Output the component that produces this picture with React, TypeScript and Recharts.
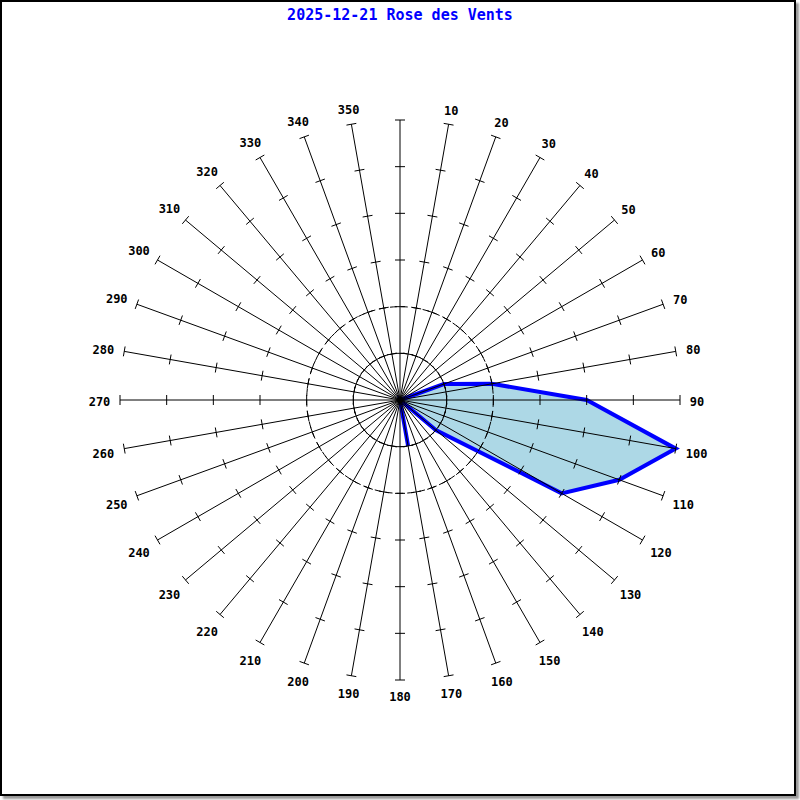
import React from "react";
import {
  RadarChart,
  Radar,
  PolarAngleAxis,
  PolarRadiusAxis,
} from "recharts";

const directions = [
  0, 10, 20, 30, 40, 50, 60, 70, 80, 90, 100, 110, 120, 130, 140, 150, 160, 170,
  180, 190, 200, 210, 220, 230, 240, 250, 260, 270, 280, 290, 300, 310, 320, 330,
  340, 350,
];
const frequency = [
  0, 0, 0, 0, 0, 0, 0, 1, 2, 4, 6, 5, 4, 1, 0, 0, 0, 1,
  0, 0, 0, 0, 0, 0, 0, 0, 0, 0, 0, 0, 0, 0, 0, 0,
  0, 0,
];
const radiusTicks = [1, 2, 3, 4, 5, 6];
const dashedRings = [1, 2];
const title = "2025-12-21 Rose des Vents";

const CX = 400;
const CY = 400;
const R = 280;
const RMAX = 6;
const LABEL_GAP = 10;

const data = directions.map((d, i) => ({ dir: d, value: frequency[i] }));

// spoke, its tick marks and its label; the rings are drawn once with the first spoke
function SpokeTick(props: any) {
  const { x, y, payload, index } = props;
  const deg = Number(payload.value);
  const rad = (deg * Math.PI) / 180;
  const ux = Math.sin(rad);
  const uy = -Math.cos(rad);
  const half = 5;
  const label = String(deg);
  const w = label.length * 7;
  const h = 9;
  const ext = Math.abs(ux) * (w / 2) + Math.abs(uy) * (h / 2);
  return (
    <g>
      {index === 0 &&
        dashedRings.map((v) => (
          <circle
            key={"ring" + v}
            cx={CX}
            cy={CY}
            r={(v / RMAX) * R}
            fill="none"
            stroke="#000"
            strokeDasharray="7 4"
          />
        ))}
      <line
        x1={CX}
        y1={CY}
        x2={CX + ux * R}
        y2={CY + uy * R}
        stroke="#000"
        strokeWidth={1}
      />
      {radiusTicks.map((v) => {
        const r = (v / RMAX) * R;
        const px = CX + ux * r;
        const py = CY + uy * r;
        return (
          <line
            key={v}
            x1={px - uy * half}
            y1={py + ux * half}
            x2={px + uy * half}
            y2={py - ux * half}
            stroke="#000"
            strokeWidth={1}
          />
        );
      })}
      {deg !== 0 && (
        <text
          x={x + ux * ext}
          y={y + uy * ext + 2}
          textAnchor="middle"
          dominantBaseline="central"
          fontFamily="'DejaVu Sans Mono', monospace"
          fontWeight="bold"
          fontSize={12}
          fill="#000"
        >
          {label}
        </text>
      )}
    </g>
  );
}

export default function App() {
  return (
    <div
      style={{
        position: "absolute",
        left: 0,
        top: 0,
        width: 800,
        height: 800,
        background: "#fff",
      }}
    >
      <div
        style={{
          position: "absolute",
          left: 0,
          top: 0,
          width: 796,
          height: 796,
          boxSizing: "border-box",
          border: "2px solid #000",
          boxShadow: "3px 3px 2px #999",
          background: "#fff",
        }}
      />
      <div
        style={{
          position: "absolute",
          left: 0,
          top: 6,
          width: 800,
          textAlign: "center",
          color: "#0000ff",
          fontFamily: "'DejaVu Sans Mono', monospace",
          fontWeight: "bold",
          fontSize: 15,
          lineHeight: "18px",
        }}
      >
        {title}
      </div>
      <div style={{ position: "absolute", left: 0, top: 0 }}>
        <RadarChart
          width={800}
          height={800}
          data={data}
          cx={CX}
          cy={CY}
          outerRadius={R}
          startAngle={90}
          endAngle={-270}
          margin={{ top: 0, right: 0, bottom: 0, left: 0 }}
        >
          <PolarRadiusAxis
            domain={[0, RMAX]}
            tick={false}
            axisLine={false}
            tickCount={7}
          />
          <Radar
            dataKey="value"
            fill="#add8e6"
            fillOpacity={1}
            stroke="none"
            isAnimationActive={false}
          />
          <PolarAngleAxis
            dataKey="dir"
            tick={SpokeTick}
            tickLine={false}
            axisLine={false}
            tickSize={LABEL_GAP}
          />
          <Radar
            dataKey="value"
            fill="none"
            fillOpacity={0}
            stroke="#0000ff"
            strokeWidth={4}
            isAnimationActive={false}
          />
        </RadarChart>
      </div>
    </div>
  );
}
